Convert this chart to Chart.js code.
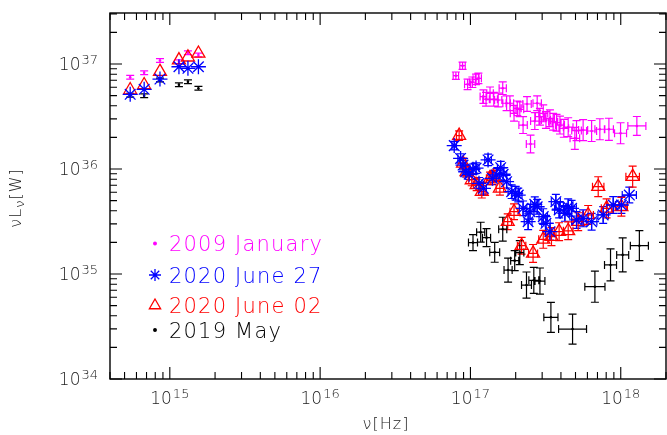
<!DOCTYPE html>
<html>
<head>
<meta charset="utf-8">
<script src="https://cdn.jsdelivr.net/npm/chart.js@4.4.0/dist/chart.umd.min.js"></script>
<style>
    html, body { margin: 0; padding: 0; background: #fff; }
    #wrap { width: 667px; height: 435px; }
</style>
</head>
<body>
<div id="wrap"><canvas id="sed" width="667" height="435"></canvas></div>
<script>
// UVOT bands (V, B, U, UVW1, UVM2, UVW2), Hz
const uvNu = [5.45e14, 6.75e14, 8.6e14, 1.15e15, 1.32e15, 1.55e15]
const uvLumErr = [0.018, 0.018, 0.018, 0.018, 0.018, 0.018]
const uvNoErr = [0, 0, 0, 0, 0, 0]

// nu L_nu in the UVOT bands, W
const janUv = [7.47e36, 8.26e36, 1.08e37, 1.05e37, 1.28e37, 1.22e37]
const jun27Uv = [5.14e36, 5.74e36, 7.19e36, 9.42e36, 9.1e36, 9.42e36]
const jun02Uv = [5.65e36, 6.31e36, 8.45e36, 1.09e37, 1.16e37, 1.26e37]
const mayUv = [5.05e36, 4.99e36, 7.05e36, 6.35e36, 6.78e36, 5.88e36]

// X-ray spectra (errors are half widths in dex)
const janNu = [8.0e16, 8.86e16, 9.57e16, 1.03e17, 1.09e17, 1.13e17, 1.22e17, 1.27e17, 1.35e17, 1.43e17,
    1.53e17, 1.64e17, 1.74e17, 1.83e17, 1.95e17, 2.05e17, 2.13e17, 2.24e17, 2.38e17, 2.51e17,
    2.68e17, 2.78e17, 2.90e17, 3.05e17, 3.18e17, 3.38e17, 3.55e17, 3.74e17, 3.94e17, 4.18e17,
    4.47e17, 4.95e17, 5.08e17, 5.62e17, 6.40e17, 7.26e17, 8.34e17, 9.97e17, 1.28e18]
const janLum = [7.74e36, 9.63e36, 6.41e36, 6.70e36, 7.15e36, 7.31e36, 4.89e36, 4.62e36, 5.26e36, 4.62e36,
    4.54e36, 5.88e36, 4.23e36, 4.23e36, 3.39e36, 3.78e36, 3.70e36, 2.62e36, 4.16e36, 1.73e36,
    2.86e36, 4.23e36, 3.15e36, 3.39e36, 2.93e36, 3.04e36, 2.82e36, 2.76e36, 2.62e36, 2.44e36,
    2.50e36, 1.96e36, 2.32e36, 2.35e36, 2.30e36, 2.39e36, 2.39e36, 2.19e36, 2.57e36]
const janNuErr = [0.018, 0.018, 0.02, 0.02, 0.02, 0.02, 0.022, 0.022, 0.022, 0.024,
    0.024, 0.024, 0.025, 0.025, 0.025, 0.026, 0.026, 0.028, 0.028, 0.028,
    0.028, 0.028, 0.03, 0.03, 0.03, 0.03, 0.03, 0.03, 0.03, 0.032,
    0.032, 0.032, 0.032, 0.03, 0.033, 0.033, 0.03, 0.04, 0.06]
const janLumErr = [0.035, 0.035, 0.05, 0.05, 0.05, 0.05, 0.065, 0.065, 0.06, 0.065,
    0.065, 0.06, 0.07, 0.07, 0.075, 0.07, 0.07, 0.08, 0.07, 0.085,
    0.08, 0.07, 0.08, 0.08, 0.08, 0.08, 0.08, 0.08, 0.085, 0.085,
    0.09, 0.105, 0.095, 0.1, 0.1, 0.1, 0.105, 0.1, 0.09]

const jun27Nu = [7.8e16, 8.6e16, 8.93e16, 9.3e16, 9.8e16, 1.04e17, 1.09e17, 1.14e17, 1.22e17, 1.31e17,
    1.40e17, 1.49e17, 1.59e17, 1.65e17, 1.74e17, 1.88e17, 2.00e17, 2.08e17, 2.24e17, 2.42e17,
    2.49e17, 2.68e17, 2.78e17, 3.05e17, 3.18e17, 3.38e17, 3.70e17, 3.89e17, 4.25e17, 4.47e17,
    4.71e17, 5.08e17, 5.62e17, 6.40e17, 7.64e17, 8.91e17, 1.01e18, 1.14e18]
const jun27Lum = [1.67e36, 1.26e36, 1.09e36, 9.42e35, 8.91e35, 9.94e35, 1.02e36, 7.31e35, 6.55e35, 1.22e36,
    8.15e35, 8.77e35, 1.03e36, 8.91e35, 7.57e35, 6.08e35, 5.87e35, 5.65e35, 4.22e35, 3.15e35,
    3.92e35, 4.61e35, 4.37e35, 3.52e35, 3.04e35, 2.53e35, 4.88e35, 4.07e35, 3.78e35, 4.37e35,
    4.22e35, 3.27e35, 3.39e35, 3.15e35, 3.65e35, 4.54e35, 4.54e35, 5.65e35]
const jun27NuErr = [0.015, 0.018, 0.018, 0.018, 0.02, 0.02, 0.02, 0.02, 0.02, 0.022,
    0.022, 0.022, 0.022, 0.024, 0.024, 0.024, 0.025, 0.025, 0.025, 0.026,
    0.026, 0.027, 0.027, 0.028, 0.028, 0.03, 0.03, 0.03, 0.032, 0.032,
    0.032, 0.033, 0.033, 0.035, 0.035, 0.04, 0.04, 0.047]
const jun27LumErr = [0.04, 0.045, 0.045, 0.05, 0.05, 0.05, 0.05, 0.055, 0.055, 0.055,
    0.06, 0.06, 0.06, 0.06, 0.06, 0.065, 0.065, 0.065, 0.07, 0.075,
    0.07, 0.07, 0.07, 0.075, 0.075, 0.08, 0.07, 0.075, 0.075, 0.075,
    0.075, 0.08, 0.08, 0.08, 0.08, 0.08, 0.08, 0.075]

const jun02Nu = [8.41e16, 8.93e16, 9.42e16, 1.02e17, 1.10e17, 1.19e17, 1.35e17, 1.42e17, 1.57e17, 1.77e17,
    1.95e17, 2.19e17, 2.61e17, 3.05e17, 3.46e17, 3.89e17, 4.47e17, 5.21e17, 6.07e17, 7.08e17,
    8.05e17, 1.01e18, 1.20e18]
const jun02Lum = [2.08e36, 1.13e36, 9.42e35, 7.86e35, 7.05e35, 6.08e35, 8.15e35, 8.45e35, 6.55e35, 3.15e35,
    3.92e35, 1.86e35, 1.57e35, 2.14e35, 2.27e35, 2.53e35, 2.58e35, 3.15e35, 3.65e35, 6.78e35,
    4.22e35, 4.37e35, 8.45e35]
const jun02NuErr = [0.018, 0.018, 0.02, 0.02, 0.022, 0.022, 0.024, 0.024, 0.025, 0.026,
    0.027, 0.028, 0.03, 0.03, 0.03, 0.032, 0.032, 0.035, 0.035, 0.038,
    0.035, 0.04, 0.045]
const jun02LumErr = [0.045, 0.05, 0.05, 0.055, 0.055, 0.06, 0.06, 0.06, 0.065, 0.075,
    0.075, 0.08, 0.085, 0.085, 0.085, 0.085, 0.085, 0.085, 0.09, 0.095,
    0.09, 0.09, 0.1]

const mayNu = [1.04e17, 1.17e17, 1.28e17, 1.45e17, 1.64e17, 1.78e17, 1.97e17, 2.13e17, 2.36e17, 2.64e17,
    2.90e17, 3.43e17, 4.78e17, 6.73e17, 8.55e17, 1.03e18, 1.33e18]
const mayLum = [1.99e35, 2.50e35, 2.22e35, 1.61e35, 2.67e35, 1.09e35, 1.34e35, 1.60e35, 7.85e34, 8.71e34,
    8.57e34, 3.87e34, 2.99e34, 7.57e34, 1.22e35, 1.52e35, 1.86e35]
const mayNuErr = [0.03, 0.027, 0.027, 0.033, 0.027, 0.027, 0.027, 0.027, 0.033, 0.033,
    0.033, 0.047, 0.093, 0.067, 0.04, 0.04, 0.06]
const mayLumErr = [0.076, 0.095, 0.086, 0.095, 0.114, 0.114, 0.095, 0.114, 0.124, 0.124,
    0.124, 0.143, 0.143, 0.148, 0.152, 0.162, 0.143]

const xTickExp = [15, 16, 17, 18]
const yTickExp = [34, 35, 36, 37]

const points = (nu, lum) => nu.map((v, i) => ({ x: v, y: lum[i] }))

const TICK_FONT = '300 17px "DejaVu Sans"'
const SUP_FONT = '300 13px "DejaVu Sans"'
const TITLE_FONT = '300 16px "DejaVu Sans"'
const LEGEND_FONT = '300 21px "DejaVu Sans"'

// error bars, drawn under the markers
const errorBars = {
    id: 'errorBars',
    beforeDatasetsDraw(chart) {
        const { ctx, scales: { x, y } } = chart
        const cap = 4
        chart.data.datasets.forEach(ds => {
            ctx.save()
            ctx.strokeStyle = ds.borderColor
            ctx.lineWidth = 1.2
            ctx.beginPath()
            ds.data.forEach((p, j) => {
                const px = x.getPixelForValue(p.x)
                const py = y.getPixelForValue(p.y)
                const ex = ds.errX[j]
                const ey = ds.errY[j]
                if (ex > 0) {
                    const x0 = x.getPixelForValue(p.x / 10 ** ex)
                    const x1 = x.getPixelForValue(p.x * 10 ** ex)
                    ctx.moveTo(x0, py); ctx.lineTo(x1, py)
                    ctx.moveTo(x0, py - cap); ctx.lineTo(x0, py + cap)
                    ctx.moveTo(x1, py - cap); ctx.lineTo(x1, py + cap)
                }
                if (ey > 0) {
                    const y0 = y.getPixelForValue(p.y / 10 ** ey)
                    const y1 = y.getPixelForValue(p.y * 10 ** ey)
                    ctx.moveTo(px, y0); ctx.lineTo(px, y1)
                    ctx.moveTo(px - cap, y0); ctx.lineTo(px + cap, y0)
                    ctx.moveTo(px - cap, y1); ctx.lineTo(px + cap, y1)
                }
            })
            ctx.stroke()
            ctx.restore()
        })
    },
}

function drawPow(ctx, exp, px, base, align) {
    ctx.font = TICK_FONT
    const w1 = ctx.measureText('10').width
    ctx.font = SUP_FONT
    const w2 = ctx.measureText(String(exp)).width
    const left = align === 'center' ? px - (w1 + w2 + 1) / 2 : px - w1 - w2 - 1
    ctx.textAlign = 'left'
    ctx.textBaseline = 'alphabetic'
    ctx.font = TICK_FONT
    ctx.fillText('10', left, base)
    ctx.font = SUP_FONT
    ctx.fillText(String(exp), left + w1 + 1, base - 6)
}

function drawMarker(ctx, ds, cx, cy, r) {
    ctx.save()
    ctx.strokeStyle = ds.borderColor
    ctx.fillStyle = ds.backgroundColor
    ctx.lineWidth = 1.3
    Chart.helpers.drawPoint(ctx, { pointStyle: ds.pointStyle, radius: r, rotation: 0, borderWidth: 1.3 }, cx, cy)
    ctx.restore()
}

// frame with inward ticks on all sides, labels, titles and legend
const axisFrame = {
    id: 'axisFrame',
    afterDraw(chart) {
        const { ctx, chartArea: a, scales: { x, y } } = chart
        ctx.save()
        ctx.strokeStyle = '#000'
        ctx.lineWidth = 1.1
        ctx.beginPath()
        for (let d = 14; d <= 18; d++) {
            for (let m = 1; m <= 9; m++) {
                const v = m * 10 ** d
                if (v < x.min || v > x.max) continue
                const px = x.getPixelForValue(v)
                const len = m === 1 ? 12 : 7
                ctx.moveTo(px, a.bottom); ctx.lineTo(px, a.bottom - len)
                ctx.moveTo(px, a.top); ctx.lineTo(px, a.top + len)
            }
        }
        for (let d = 34; d <= 37; d++) {
            for (let m = 1; m <= 9; m++) {
                const v = m * 10 ** d
                if (v < y.min || v > y.max) continue
                const py = y.getPixelForValue(v)
                const len = m === 1 ? 12 : 7
                ctx.moveTo(a.left, py); ctx.lineTo(a.left + len, py)
                ctx.moveTo(a.right, py); ctx.lineTo(a.right - len, py)
            }
        }
        ctx.stroke()
        ctx.lineWidth = 1.4
        ctx.strokeRect(a.left, a.top, a.right - a.left, a.bottom - a.top)

        ctx.fillStyle = '#222'
        xTickExp.forEach(e => drawPow(ctx, e, x.getPixelForValue(10 ** e), a.bottom + 25, 'center'))
        yTickExp.forEach(e => drawPow(ctx, e, a.left - 12, y.getPixelForValue(10 ** e) + 6, 'right'))

        // x title
        ctx.font = TITLE_FONT
        ctx.letterSpacing = '1px'
        ctx.textAlign = 'center'
        ctx.textBaseline = 'alphabetic'
        ctx.fillText('ν[Hz]', 386, 429)

        // y title
        ctx.save()
        ctx.translate(17, 198)
        ctx.rotate(-Math.PI / 2)
        ctx.textBaseline = 'middle'
        ctx.textAlign = 'left'
        const parts = [['ν', TITLE_FONT, 0], ['L', TITLE_FONT, 0], ['ν', SUP_FONT, 4], ['[W]', TITLE_FONT, 0]]
        let total = 0
        parts.forEach(p => { ctx.font = p[1]; total += ctx.measureText(p[0]).width })
        let cx = -total / 2
        parts.forEach(p => {
            ctx.font = p[1]
            ctx.fillText(p[0], cx, p[2])
            cx += ctx.measureText(p[0]).width
        })
        ctx.restore()

        // legend
        const rows = [243.5, 275, 305.5, 330]
        const sizes = { circle: 1.3, star: 6, triangle: 6.5 }
        ctx.letterSpacing = '1.2px'
        chart.data.datasets.forEach((ds, i) => {
            const cy = rows[i]
            drawMarker(ctx, ds, 155, cy, sizes[ds.pointStyle])
            ctx.font = LEGEND_FONT
            ctx.fillStyle = ds.borderColor
            ctx.textAlign = 'left'
            ctx.textBaseline = 'alphabetic'
            ctx.fillText(ds.label, 169, cy + 7.5)
        })
        ctx.restore()
    },
}

new Chart(document.getElementById('sed').getContext('2d'), {
    type: 'scatter',
    data: {
        datasets: [
            {
                label: '2009 January',
                data: points(uvNu.concat(janNu), janUv.concat(janLum)),
                errX: uvNoErr.concat(janNuErr),
                errY: uvLumErr.concat(janLumErr),
                pointStyle: 'circle',
                pointRadius: 1.3,
                borderColor: '#ff00ff',
                backgroundColor: '#ff00ff',
                borderWidth: 0,
                order: 3,
            },
            {
                label: '2020 June 27',
                data: points(uvNu.concat(jun27Nu), jun27Uv.concat(jun27Lum)),
                errX: uvNoErr.concat(jun27NuErr),
                errY: uvNoErr.concat(jun27LumErr),
                pointStyle: 'star',
                pointRadius: 7.5,
                borderColor: '#0000ff',
                backgroundColor: '#0000ff',
                borderWidth: 1.3,
                order: 0,
            },
            {
                label: '2020 June 02',
                data: points(uvNu.concat(jun02Nu), jun02Uv.concat(jun02Lum)),
                errX: uvNoErr.concat(jun02NuErr),
                errY: uvNoErr.concat(jun02LumErr),
                pointStyle: 'triangle',
                pointRadius: 7.5,
                borderColor: '#ff0000',
                backgroundColor: 'rgba(0,0,0,0)',
                borderWidth: 1.3,
                order: 1,
            },
            {
                label: '2019 May',
                data: points(uvNu.concat(mayNu), mayUv.concat(mayLum)),
                errX: uvNoErr.concat(mayNuErr),
                errY: uvLumErr.concat(mayLumErr),
                pointStyle: 'circle',
                pointRadius: 1.3,
                borderColor: '#000000',
                backgroundColor: '#000000',
                borderWidth: 0,
                order: 2,
            },
        ],
    },
    options: {
        responsive: false,
        animation: false,
        events: [],
        layout: {
            autoPadding: false,
            padding: { left: 110, top: 13, right: 1, bottom: 56 },
        },
        scales: {
            x: { type: 'logarithmic', min: 4e14, max: 2e18, display: false },
            y: { type: 'logarithmic', min: 1e34, max: 3.06e37, display: false },
        },
        plugins: {
            legend: { display: false },
            tooltip: { enabled: false },
        },
    },
    plugins: [errorBars, axisFrame],
})
</script>
</body>
</html>
